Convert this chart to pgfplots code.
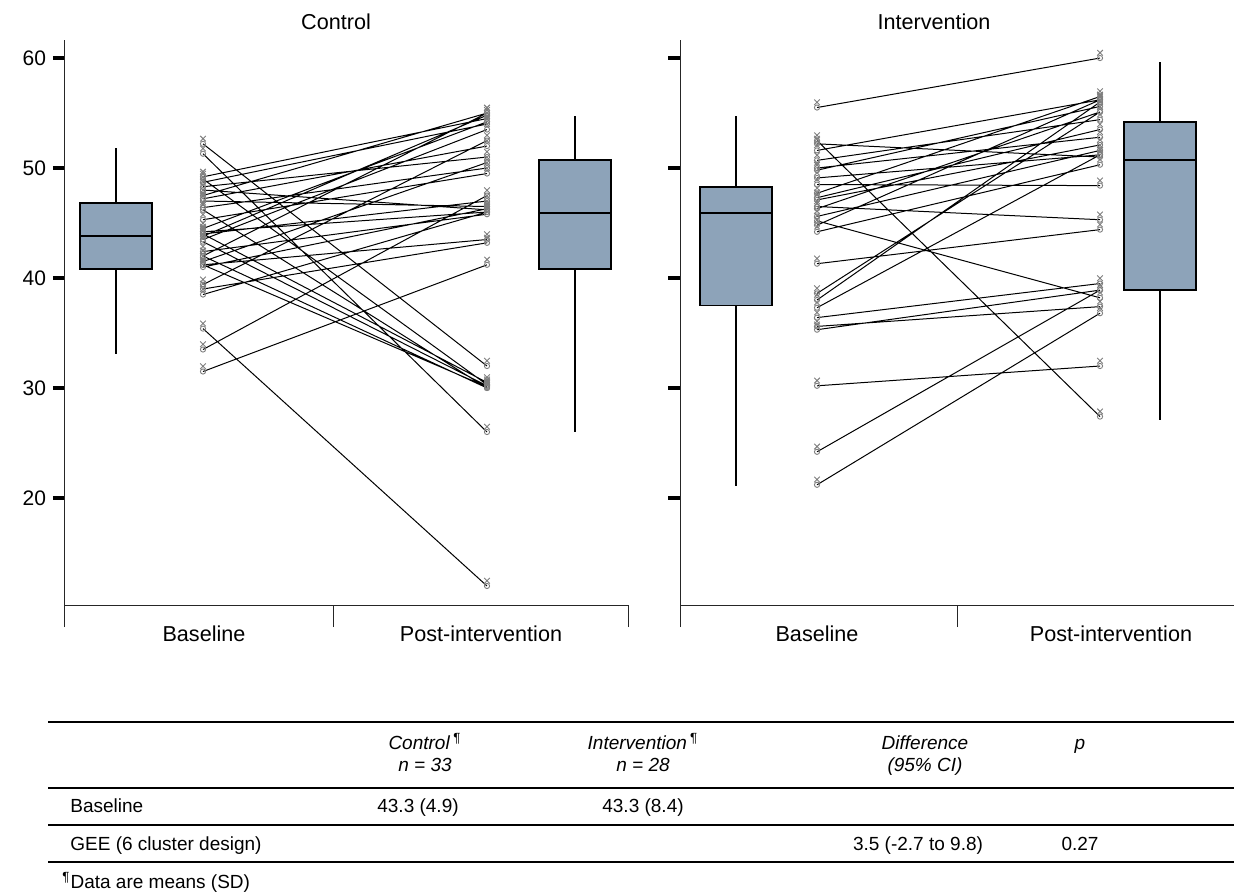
\documentclass[border=0pt]{standalone}
\usepackage{fontspec}
\setmainfont{Liberation Sans}
\usepackage{pgfplots}
\pgfplotsset{compat=1.18}
\usepgfplotslibrary{statistics}

\definecolor{boxc}{HTML}{8DA3B9}
\definecolor{markc}{HTML}{7E7E7E}

% small x above a small circle, as in the original
\pgfdeclareplotmark{xo}{%
  \pgfpathmoveto{\pgfpoint{-1.4pt}{1.2pt}}\pgfpathlineto{\pgfpoint{1.4pt}{4.0pt}}%
  \pgfpathmoveto{\pgfpoint{-1.4pt}{4.0pt}}\pgfpathlineto{\pgfpoint{1.4pt}{1.2pt}}%
  \pgfusepathqstroke
  \pgfpathcircle{\pgfpoint{0pt}{0pt}}{1.3pt}\pgfusepathqstroke}

\pgfplotsset{
  panel/.style={
    scale only axis, height=282.5pt,
    ymin=10.27, ymax=61.64,
    axis x line=bottom, axis y line=left,
    axis line style={-, black!85, line width=0.5pt},
    clip=false,
    xtick=\empty,
    extra x tick labels={},
    extra tick style={major tick length=11pt, tick style={line width=0.5pt, black!85}},
    ytick={20,30,40,50,60},
    tick align=outside,
    major tick length=6pt,
    tick style={line width=1.8pt, black},
    yticklabel style={font=\fontsize{10.5}{12}\selectfont},
    /pgf/number format/assume math mode=true,
  },
  pairs/.style={black, line width=0.5pt, unbounded coords=jump,
    mark=xo, mark options={draw=markc, line width=0.45pt}},
  bx/.style={draw=black, fill=boxc, line width=0.9pt, mark=none,
    boxplot/draw direction=y, boxplot/box extend=72, boxplot/whisker extend=0},
}

\begin{document}
\begin{tikzpicture}
\useasboundingbox (0pt,0pt) rectangle (617pt,-447pt);

% ---------------- Control ----------------
\begin{axis}[panel, at={(32.5pt,-302.5pt)}, anchor=south west,
  width=281.5pt, xmin=0, xmax=563,
  extra x ticks={0,268,563}]
\addplot[bx, boxplot prepared={draw position=51, median=43.8,
  upper quartile=46.8, lower quartile=40.8,
  upper whisker=51.8, lower whisker=33.1}] coordinates {};
\addplot[bx, boxplot prepared={draw position=510, median=45.9,
  upper quartile=50.7, lower quartile=40.8,
  upper whisker=54.7, lower whisker=26.0}] coordinates {};
\addplot[pairs] coordinates {
(138,52.2) (422,32.0) (138,nan)
(138,51.3) (422,26.0) (138,nan)
(138,49.2) (422,54.5) (138,nan)
(138,49.0) (422,30.3) (138,nan)
(138,48.7) (422,54.0) (138,nan)
(138,48.3) (422,51.0) (138,nan)
(138,48.0) (422,46.2) (138,nan)
(138,47.5) (422,55.0) (138,nan)
(138,47.2) (422,52.0) (138,nan)
(138,47.0) (422,46.5) (138,nan)
(138,46.4) (422,50.0) (138,nan)
(138,46.2) (422,30.0) (138,nan)
(138,45.3) (422,49.5) (138,nan)
(138,44.5) (422,54.2) (138,nan)
(138,44.2) (422,46.0) (138,nan)
(138,44.0) (422,30.5) (138,nan)
(138,44.0) (422,47.0) (138,nan)
(138,43.8) (422,54.8) (138,nan)
(138,43.5) (422,53.5) (138,nan)
(138,43.3) (422,30.2) (138,nan)
(138,42.4) (422,45.8) (138,nan)
(138,42.0) (422,55.0) (138,nan)
(138,42.0) (422,30.0) (138,nan)
(138,41.5) (422,50.5) (138,nan)
(138,41.2) (422,43.5) (138,nan)
(138,41.2) (422,30.1) (138,nan)
(138,41.0) (422,46.3) (138,nan)
(138,39.4) (422,52.5) (138,nan)
(138,39.0) (422,43.2) (138,nan)
(138,38.5) (422,46.0) (138,nan)
(138,35.4) (422,12.0) (138,nan)
(138,33.5) (422,47.5) (138,nan)
(138,31.5) (422,41.2)
};
\end{axis}

% ---------------- Intervention ----------------
\begin{axis}[panel, at={(340pt,-302.5pt)}, anchor=south west,
  width=281pt, xmin=0, xmax=562,
  extra x ticks={0,277,562}, yticklabels={}]
\addplot[bx, boxplot prepared={draw position=56, median=45.9,
  upper quartile=48.3, lower quartile=37.5,
  upper whisker=54.7, lower whisker=21.1}] coordinates {};
\addplot[bx, boxplot prepared={draw position=480, median=50.7,
  upper quartile=54.2, lower quartile=38.9,
  upper whisker=59.6, lower whisker=27.1}] coordinates {};
\addplot[pairs] coordinates {
(137,55.5) (420,60.0) (137,nan)
(137,52.5) (420,27.4) (137,nan)
(137,52.2) (420,51.0) (137,nan)
(137,51.6) (420,56.2) (137,nan)
(137,50.7) (420,54.4) (137,nan)
(137,50.0) (420,52.8) (137,nan)
(137,49.8) (420,55.6) (137,nan)
(137,49.1) (420,51.2) (137,nan)
(137,48.5) (420,48.4) (137,nan)
(137,47.7) (420,56.5) (137,nan)
(137,47.3) (420,53.5) (137,nan)
(137,47.1) (420,52.1) (137,nan)
(137,46.5) (420,45.3) (137,nan)
(137,46.3) (420,55.1) (137,nan)
(137,45.6) (420,51.6) (137,nan)
(137,45.2) (420,38.2) (137,nan)
(137,44.8) (420,56.2) (137,nan)
(137,44.2) (420,50.3) (137,nan)
(137,41.3) (420,44.4) (137,nan)
(137,38.6) (420,55.1) (137,nan)
(137,38.0) (420,56.0) (137,nan)
(137,37.3) (420,51.2) (137,nan)
(137,36.4) (420,39.5) (137,nan)
(137,35.6) (420,37.4) (137,nan)
(137,35.3) (420,38.9) (137,nan)
(137,30.2) (420,32.0) (137,nan)
(137,24.2) (420,38.9) (137,nan)
(137,21.2) (420,36.8)
};
\end{axis}

% ---------------- titles, category names and table ----------------
\begin{scope}[x=0.5pt, y=-0.5pt]
\begin{scope}[font=\fontsize{10.8}{12}\selectfont, text height=7.7pt, text depth=0pt, inner sep=0pt]
\node at (336,22) {Control};
\node at (934,22) {Intervention};
\node at (204,634) {Baseline};
\node at (481,634) {Post-intervention};
\node at (817,634) {Baseline};
\node at (1111,634) {Post-intervention};
\end{scope}

\foreach \yy in {722,788,825,862}
  \draw[line width=1pt] (48,\yy) -- (1234,\yy);

\begin{scope}[font=\fontsize{9.5}{11}\selectfont, inner sep=0pt, text height=6.8pt, text depth=0pt]
\node at (425,743) {\textit{Control}\,\textsuperscript{¶}};
\node at (425,765) {\textit{n = 33}};
\node at (643,743) {\textit{Intervention}\,\textsuperscript{¶}};
\node at (643,765) {\textit{n = 28}};
\node at (925,743) {\textit{Difference}};
\node at (925,765) {\textit{(95\% CI)}};
\node at (1080,743) {\textit{p}};
\node[anchor=west] at (70,806) {Baseline};
\node at (418,806) {43.3 (4.9)};
\node at (643,806) {43.3 (8.4)};
\node[anchor=west] at (70,844) {GEE (6 cluster design)};
\node at (918,844) {3.5 (-2.7 to 9.8)};
\node at (1080,844) {0.27};
\node[anchor=west] at (62,882) {\textsuperscript{¶}Data are means (SD)};
\end{scope}
\end{scope}
\end{tikzpicture}
\end{document}
